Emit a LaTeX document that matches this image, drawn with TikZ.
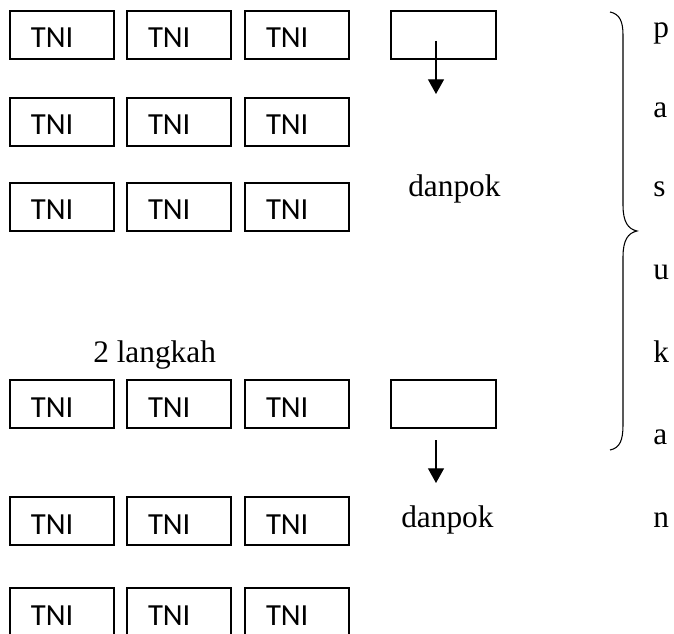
\documentclass[tikz,border=0pt]{standalone}
\usepackage{fontspec}
\setmainfont{Liberation Serif}
\newfontfamily\tnifont{Carlito}
\usetikzlibrary{arrows.meta}

\tikzset{
  tni/.style={draw, line width=0.8pt, minimum width=78pt, minimum height=36pt,
    inner xsep=15.75pt, inner ysep=0pt, text width=46.5pt, align=left,
    text height=27.75pt, text depth=8.25pt, font=\tnifont\fontsize{23pt}{27pt}\selectfont},
  lead/.style={draw, line width=0.8pt, minimum width=78.75pt, minimum height=36pt, inner sep=0pt},
  lbl/.style={anchor=base west, inner sep=0pt, font=\fontsize{23.5pt}{28pt}\selectfont},
  arr/.style={line width=0.9pt, -{Triangle[width=12pt,length=11pt]}}
}

\begin{document}
\begin{tikzpicture}[x=0.75pt, y=-0.75pt]
  \useasboundingbox (0,0) rectangle (674,634);

  % three ranks of TNI
  \foreach \y [count=\r] in {35,122,207,404,521,612}
    \foreach \x [count=\c] in {62,179,297}
      \node[tni] (t\r\c) at (\x,\y) {TNI};

  % leaders
  \node[lead] (lead1) at (443.5,35) {};
  \node[lead] (lead2) at (443.5,404) {};

  \coordinate (a1s) at (436,41);
  \coordinate (a1e) at (436,94);
  \coordinate (a2s) at (436,440);
  \coordinate (a2e) at (436,483);
  \draw[arr] (a1s) -- (a1e);
  \draw[arr] (a2s) -- (a2e);

  \node[lbl] (dp1) at (408,197) {danpok};
  \node[lbl] (dp2) at (401,527) {danpok};
  \node[lbl] (lk) at (93,363) {2 langkah};

  % brace
  \draw[line width=0.8pt] (610,12) .. controls (620,14) and (623,22) .. (623,35)
    -- (623,205) .. controls (623,222) and (628,229) .. (637,231)
    .. controls (628,233) and (623,240) .. (623,257)
    -- (623,425) .. controls (623,440) and (620,448) .. (610,450);

  % pasukan
  \node[lbl] (l1) at (653,38) {p};
  \node[lbl] (l2) at (653,118) {a};
  \node[lbl] (l3) at (653,197) {s};
  \node[lbl] (l4) at (653,280) {u};
  \node[lbl] (l5) at (653,363) {k};
  \node[lbl] (l6) at (653,444) {a};
  \node[lbl] (l7) at (653,527) {n};
\end{tikzpicture}
\end{document}
